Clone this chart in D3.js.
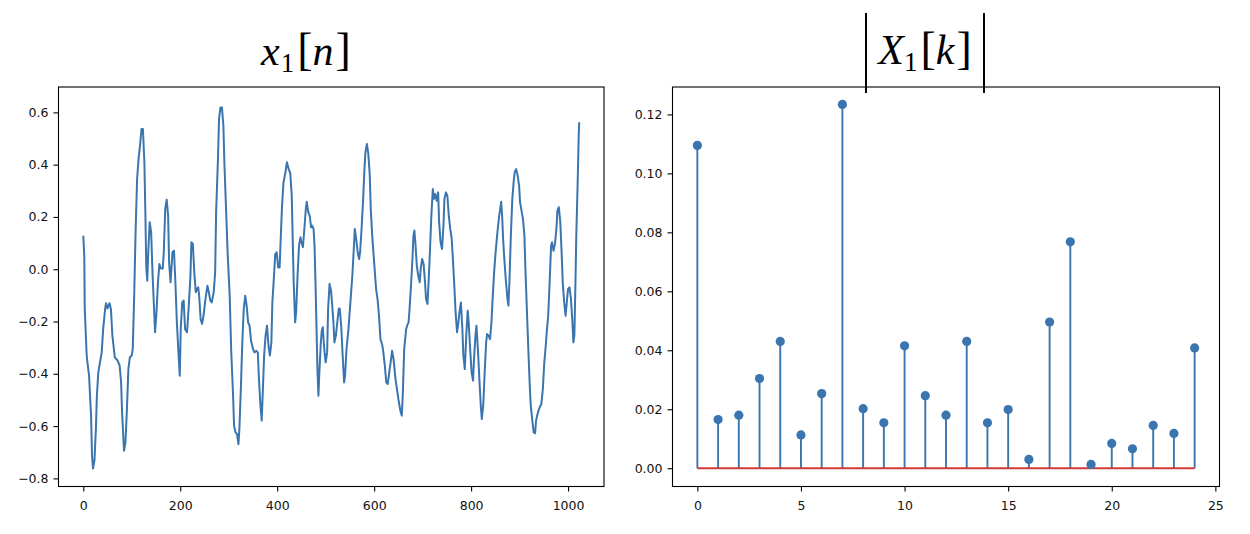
<!DOCTYPE html>
<html>
<head>
<meta charset="utf-8">
<script src="https://cdn.jsdelivr.net/npm/d3@7"></script>
<style>
  html, body { margin: 0; padding: 0; background: #fff; }
  svg { display: block; }
</style>
</head>
<body>
<svg id="chart" width="1250" height="534"></svg>
<script>
// ---------- data ----------
const signalN = [0,2,3,7,12,16,18,20,23,26,28,31,35,38,41,45,47,50,54,57,60,65,71,75,78,80,84,87,90,93,96,100,102,105,108,111,114,117,120,123,126,128,130,132,134,137,140,143,146,148,151,154,157,160,164,166,169,172,175,177,180,184,187,190,193,197,199,201,204,207,210,214,218,221,223,226,229,232,234,237,239,242,245,248,252,256,259,262,265,269,272,274,278,280,283,286,289,291,295,298,302,305,309,311,314,317,320,322,325,328,331,334,337,340,343,346,350,353,357,360,362,365,368,370,373,376,379,382,385,388,390,393,396,399,402,405,408,410,413,417,420,424,427,430,432,434,437,439,442,445,448,450,453,456,459,461,464,467,470,472,475,477,479,481,483,485,487,490,492,494,497,500,503,505,508,511,513,516,518,521,524,527,529,532,535,538,540,543,547,549,552,555,558,560,563,566,569,571,574,577,580,582,585,588,591,593,596,599,602,604,607,610,613,617,619,622,625,628,632,635,637,640,644,647,650,654,657,659,662,666,668,671,673,676,679,681,683,685,688,691,694,696,699,702,705,707,710,712,715,718,721,723,726,729,732,734,737,740,743,745,748,751,754,757,760,762,765,768,771,773,776,779,782,784,787,790,793,795,798,801,804,806,809,811,814,817,820,822,825,828,831,833,836,839,842,844,847,850,853,855,858,860,862,864,866,869,872,875,877,879,882,885,888,890,893,896,899,901,904,907,910,912,915,918,921,923,926,929,932,934,937,940,943,945,948,951,954,956,959,962,965,967,970,973,976,978,981,984,987,989,992,995,998,1000,1003,1006,1009,1011,1013,1015,1017,1020,1022,1023];
const signalX = [0.128,0.052,-0.152,-0.33,-0.41,-0.56,-0.713,-0.762,-0.732,-0.611,-0.484,-0.394,-0.35,-0.318,-0.229,-0.152,-0.13,-0.15,-0.13,-0.152,-0.254,-0.337,-0.35,-0.369,-0.433,-0.547,-0.694,-0.662,-0.535,-0.382,-0.337,-0.33,-0.305,-0.101,0.154,0.345,0.422,0.473,0.536,0.536,0.409,0.218,0.001,-0.044,0.065,0.18,0.141,-0.025,-0.152,-0.241,-0.165,-0.05,0.02,0.003,0.003,0.065,0.23,0.266,0.205,0.026,-0.05,0.065,0.071,-0.05,-0.203,-0.343,-0.407,-0.229,-0.127,-0.12,-0.229,-0.241,-0.127,-0.025,0.103,0.097,-0.012,-0.088,-0.076,-0.069,-0.101,-0.19,-0.209,-0.178,-0.114,-0.063,-0.088,-0.12,-0.127,-0.088,-0.012,0.218,0.434,0.575,0.619,0.619,0.549,0.409,0.205,0.052,-0.101,-0.305,-0.484,-0.598,-0.624,-0.63,-0.669,-0.611,-0.458,-0.28,-0.152,-0.101,-0.14,-0.203,-0.216,-0.273,-0.305,-0.318,-0.312,-0.318,-0.407,-0.509,-0.579,-0.484,-0.33,-0.254,-0.216,-0.292,-0.33,-0.28,-0.127,-0.037,0.058,0.065,0.007,0.007,0.154,0.243,0.332,0.371,0.409,0.381,0.368,0.281,0.116,-0.05,-0.203,-0.165,-0.025,0.09,0.122,0.103,0.084,0.154,0.23,0.258,0.218,0.205,0.16,0.167,0.154,0.09,-0.05,-0.216,-0.382,-0.484,-0.394,-0.28,-0.235,-0.222,-0.305,-0.356,-0.318,-0.152,-0.056,-0.082,-0.127,-0.203,-0.28,-0.254,-0.203,-0.152,-0.15,-0.216,-0.33,-0.433,-0.407,-0.305,-0.229,-0.178,-0.101,-0.025,0.077,0.154,0.116,0.065,0.039,0.065,0.154,0.256,0.383,0.447,0.479,0.441,0.358,0.23,0.128,0.052,-0.025,-0.076,-0.114,-0.178,-0.267,-0.292,-0.318,-0.369,-0.433,-0.439,-0.382,-0.343,-0.312,-0.343,-0.42,-0.458,-0.497,-0.541,-0.56,-0.484,-0.305,-0.229,-0.216,-0.203,-0.152,-0.063,0.039,0.128,0.148,0.103,0.014,-0.025,-0.05,0.001,0.039,0.02,-0.05,-0.114,-0.133,-0.063,0.065,0.205,0.307,0.269,0.288,0.262,0.294,0.18,0.103,0.077,0.167,0.269,0.294,0.281,0.205,0.154,0.116,0.052,-0.05,-0.165,-0.241,-0.216,-0.165,-0.127,-0.229,-0.33,-0.382,-0.254,-0.159,-0.203,-0.305,-0.394,-0.426,-0.343,-0.254,-0.216,-0.305,-0.42,-0.522,-0.573,-0.522,-0.394,-0.28,-0.248,-0.254,-0.267,-0.203,-0.127,-0.025,0.052,0.116,0.154,0.205,0.23,0.258,0.205,0.116,0.026,-0.05,-0.114,-0.139,-0.05,0.128,0.269,0.339,0.371,0.383,0.358,0.32,0.256,0.224,0.192,0.128,0.001,-0.152,-0.305,-0.445,-0.522,-0.573,-0.624,-0.627,-0.579,-0.554,-0.535,-0.522,-0.516,-0.458,-0.356,-0.292,-0.241,-0.178,-0.05,0.09,0.103,0.071,0.097,0.154,0.224,0.237,0.18,0.052,-0.05,-0.127,-0.178,-0.114,-0.076,-0.069,-0.114,-0.203,-0.28,-0.254,-0.076,0.128,0.345,0.511,0.562,0.565];

const stemK = [0,1,2,3,4,5,6,7,8,9,10,11,12,13,14,15,16,17,18,19,20,21,22,23,24];
const stemMag = [0.1095,0.0165,0.0180,0.0304,0.0430,0.0113,0.0253,0.1234,0.0202,0.0154,0.0415,0.0246,0.0180,0.0430,0.0154,0.0199,0.0030,0.0496,0.0768,0.0013,0.0084,0.0066,0.0145,0.0118,0.0408];

const leftXTicks = [0,200,400,600,800,1000];
const leftYTicks = [-0.8,-0.6,-0.4,-0.2,0.0,0.2,0.4,0.6];
const rightXTicks = [0,5,10,15,20,25];
const rightYTicks = [0.00,0.02,0.04,0.06,0.08,0.10,0.12];

// ---------- drawing ----------
const svg = d3.select("#chart");
const BLUE = "#3a75b0";
const RED = "#d23a34";
const tickFont = "DejaVu Sans, sans-serif";
const tickFontSize = 12.5;

const axTop = 87, axBottom = 486.5;

const xL = d3.scaleLinear().domain([-51.15, 1074.15]).range([58.5, 604]);
const yL = d3.scaleLinear().domain([-0.831, 0.697]).range([axBottom, axTop]);
const xR = d3.scaleLinear().domain([-1.2, 25.2]).range([672.5, 1219.5]);
const yR = d3.scaleLinear().domain([-0.0062, 0.1293]).range([axBottom, axTop]);

function drawAxes(x, y, xt, yt, yfmt) {
  const gx = svg.append("g").attr("transform", `translate(0,${axBottom})`)
    .call(d3.axisBottom(x).tickValues(xt).tickSize(5).tickSizeOuter(0).tickPadding(9.5).tickFormat(d3.format("d")));
  const gy = svg.append("g").attr("transform", `translate(${x.range()[0]},0)`)
    .call(d3.axisLeft(y).tickValues(yt).tickSize(5).tickSizeOuter(0).tickPadding(5).tickFormat(yfmt));
  [gx, gy].forEach(g => {
    g.select(".domain").remove();
    g.selectAll("line").attr("stroke", "#000").attr("stroke-width", 1.1);
    g.selectAll("text").attr("fill", "#111").style("font-family", tickFont).style("font-size", tickFontSize + "px");
  });
  svg.append("rect")
    .attr("x", x.range()[0]).attr("y", axTop)
    .attr("width", x.range()[1] - x.range()[0]).attr("height", axBottom - axTop)
    .attr("fill", "none").attr("stroke", "#000").attr("stroke-width", 1.1);
}

// left panel
const sig = signalN.map((n, i) => [n, signalX[i]]);
svg.append("clipPath").attr("id", "lclip").append("rect")
  .attr("x", xL.range()[0]).attr("y", axTop).attr("width", xL.range()[1] - xL.range()[0]).attr("height", axBottom - axTop);
svg.append("path")
  .datum(sig)
  .attr("clip-path", "url(#lclip)")
  .attr("fill", "none")
  .attr("stroke", BLUE)
  .attr("stroke-width", 2)
  .attr("stroke-linejoin", "round")
  .attr("d", d3.line().x(d => xL(d[0])).y(d => yL(d[1])));
drawAxes(xL, yL, leftXTicks, leftYTicks, d3.format(".1f"));

// right panel (stem plot)
const stems = stemK.map((k, i) => ({k, v: stemMag[i]}));
svg.append("g").selectAll("line").data(stems).join("line")
  .attr("x1", d => xR(d.k)).attr("x2", d => xR(d.k))
  .attr("y1", yR(0)).attr("y2", d => yR(d.v))
  .attr("stroke", BLUE).attr("stroke-width", 1.9);
svg.append("line")
  .attr("x1", xR(stemK[0])).attr("x2", xR(stemK[stemK.length - 1]))
  .attr("y1", yR(0)).attr("y2", yR(0))
  .attr("stroke", RED).attr("stroke-width", 2);
svg.append("g").selectAll("circle").data(stems).join("circle")
  .attr("cx", d => xR(d.k)).attr("cy", d => yR(d.v)).attr("r", 4.6)
  .attr("fill", BLUE);
drawAxes(xR, yR, rightXTicks, rightYTicks, d3.format(".2f"));

// titles (math-style)
const serif = "Liberation Serif, DejaVu Serif, serif";
function mathTitle(cx, baseline, parts) {
  const t = svg.append("text").attr("x", cx).attr("y", baseline)
    .attr("text-anchor", "middle").style("font-family", serif).attr("fill", "#000");
  parts.forEach(p => {
    const s = t.append("tspan").text(p.t).style("font-size", p.size + "px");
    if (p.italic) s.style("font-style", "italic");
    if (p.dy) s.attr("dy", p.dy);
    if (p.dx) s.attr("dx", p.dx);
  });
  return t;
}
mathTitle(306, 65, [
  {t: "x", italic: true, size: 42},
  {t: "1", size: 27, dy: 7, dx: 1},
  {t: "[", size: 46, dy: -7, dx: 3},
  {t: "n", italic: true, size: 42},
  {t: "]", size: 46, dx: 2}
]);
mathTitle(925, 64, [
  {t: "X", italic: true, size: 42},
  {t: "1", size: 27, dy: 7, dx: 0},
  {t: "[", size: 46, dy: -7, dx: 3},
  {t: "k", italic: true, size: 42},
  {t: "]", size: 46, dx: 2}
]);
[866, 984].forEach(x => {
  svg.append("line").attr("x1", x).attr("x2", x).attr("y1", 13).attr("y2", 93)
    .attr("stroke", "#000").attr("stroke-width", 2);
});
</script>
</body>
</html>
